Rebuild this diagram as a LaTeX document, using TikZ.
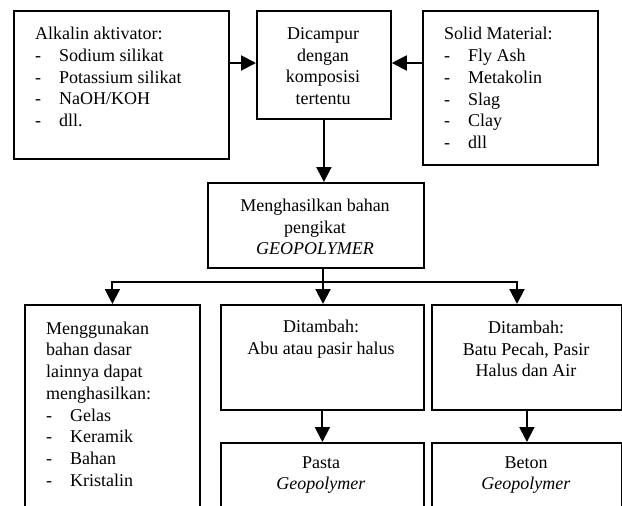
\documentclass[tikz,border=0pt]{standalone}
\usepackage{fontspec}
\setmainfont{Liberation Serif}
\usetikzlibrary{arrows.meta,calc}
\tikzset{
  box/.style={draw, line width=1.8pt, rectangle, inner sep=0pt, anchor=north west},
  txt/.style={inner sep=0pt, font=\fontsize{18}{21.7}\selectfont},
  arr/.style={line width=2pt, -{Triangle[length=15pt,width=15pt]}},
  ln/.style={line width=2pt}
}
\newcommand{\itm}[1]{\makebox[24pt][l]{-}#1}
\begin{document}
\begin{tikzpicture}[x=1pt,y=-1pt]
\useasboundingbox (0,0) rectangle (622,506);
\clip (0,0) rectangle (622,506);
% boxes
\node[box, minimum width=215pt, minimum height=148pt] (A) at (13,10) {};
\node[box, minimum width=134pt, minimum height=108pt] (B) at (256,10) {};
\node[box, minimum width=175pt, minimum height=154pt] (C) at (422,10) {};
\node[box, minimum width=216pt, minimum height=85pt] (D) at (207,182) {};
\node[box, minimum width=175pt, minimum height=240pt] (E) at (24,304) {};
\node[box, minimum width=203pt, minimum height=105pt] (F) at (220,304) {};
\node[box, minimum width=190pt, minimum height=105pt] (G) at (431,304) {};
\node[box, minimum width=203pt, minimum height=100pt] (H) at (220,442) {};
\node[box, minimum width=190pt, minimum height=100pt] (I) at (431,442) {};
% texts
\node[txt, anchor=west, align=left] (At) at (35,77) {Alkalin aktivator:\\ \itm{Sodium silikat}\\ \itm{Potassium silikat}\\ \itm{NaOH/KOH}\\ \itm{dll.}};
\node[txt, align=center] (Bt) at (323,66) {Dicampur\\ dengan\\ komposisi\\ tertentu};
\node[txt, anchor=west, align=left] (Ct) at (444,88) {Solid Material:\\ \itm{Fly Ash}\\ \itm{Metakolin}\\ \itm{Slag}\\ \itm{Clay}\\ \itm{dll}};
\node[txt, align=center] (Dt) at (315,227) {Menghasilkan bahan\\ pengikat\\ \textit{GEOPOLYMER}};
\node[txt, anchor=west, align=left] (Et) at (46,404) {Menggunakan\\ bahan dasar\\ lainnya dapat\\ menghasilkan:\\ \itm{Gelas}\\ \itm{Keramik}\\ \itm{Bahan}\\ \itm{Kristalin}};
\node[txt, align=center] (Ft) at (321,339) {Ditambah:\\ Abu atau pasir halus};
\node[txt, align=center] (Gt) at (526,349) {Ditambah:\\ Batu Pecah, Pasir\\ Halus dan Air};
\node[txt, align=center] (Ht) at (321,475) {Pasta\\ \textit{Geopolymer}};
\node[txt, align=center] (It) at (526,475) {Beton\\ \textit{Geopolymer}};
% connectors
\coordinate (ab) at (0,63);
\coordinate (j) at (323,282);
\coordinate (gj) at (517,282);
\draw[arr] (A.east |- ab) -- (B.west |- ab);
\draw[arr] (C.west |- ab) -- (B.east |- ab);
\draw[arr] (B.south) -- (B.south |- D.north);
\draw[ln] (D.south -| j) -- (j);
\draw[arr] (j) -| (E.north);
\draw[arr] (j) -- (gj) -- (gj |- G.north);
\draw[arr] (j) -- (j |- F.north);
\draw[arr] (F.south) -- (H.north);
\draw[arr] (G.south) -- (I.north);
\end{tikzpicture}
\end{document}
